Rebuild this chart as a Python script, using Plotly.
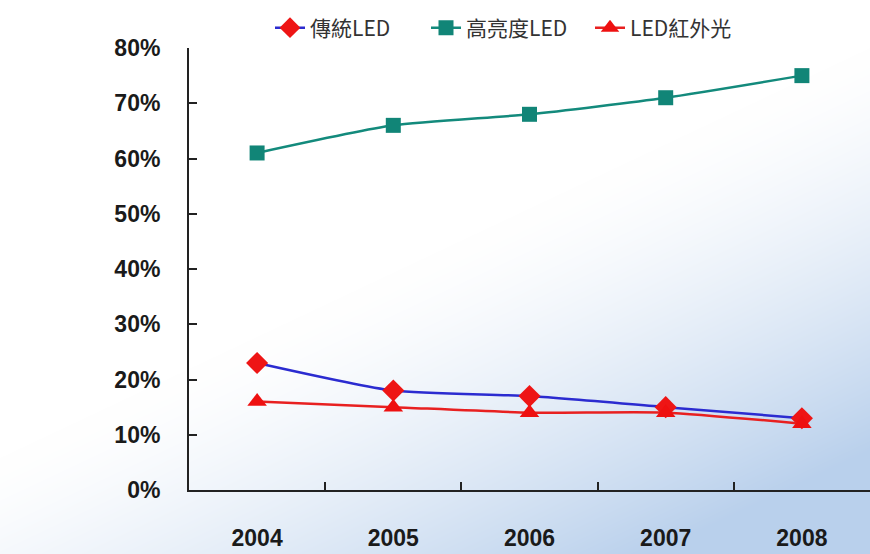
import base64
import struct
import zlib

import numpy as np
import plotly.graph_objects as go

years = ["2004", "2005", "2006", "2007", "2008"]
traditional_led = [23, 18, 17, 15, 13]
high_brightness_led = [61, 66, 68, 71, 75]
infrared_led = [16, 15, 14, 14, 12]
y_ticks = [0, 10, 20, 30, 40, 50, 60, 70, 80]
y_tick_labels = [f"{v}%" for v in y_ticks]

W, H = 870, 554
L, R, T, B = 189, 0, 48, 64
PW, PH = W - L - R, H - T - B


def png_data_uri(rgb):
    """Encode an HxWx3 uint8 array as a PNG data URI."""
    h, w, _ = rgb.shape
    raw = b"".join(b"\x00" + rgb[r].tobytes() for r in range(h))

    def chunk(tag, data):
        c = struct.pack(">I", len(data)) + tag + data
        return c + struct.pack(">I", zlib.crc32(tag + data) & 0xFFFFFFFF)

    png = (b"\x89PNG\r\n\x1a\n"
           + chunk(b"IHDR", struct.pack(">IIBBBBB", w, h, 8, 2, 0, 0, 0))
           + chunk(b"IDAT", zlib.compress(raw, 9))
           + chunk(b"IEND", b""))
    return "data:image/png;base64," + base64.b64encode(png).decode()


# soft blue wash toward the lower right of the page
gx, gy = np.meshgrid(np.arange(W), np.arange(H))
t = np.clip(0.5 * (gx - 440) / 430 + 0.75 * (gy - 250) / 304, 0, 1) ** 1.4
white = np.array([255, 255, 255], float)
blue = np.array([185, 208, 236], float)
bg = (white * (1 - t[..., None]) + blue * t[..., None]).astype(np.uint8)
bg_uri = png_data_uri(bg)

tick_font = dict(family="Liberation Sans, Arial, sans-serif", size=23,
                 color="#1a1a1a", weight="bold")
legend_font = dict(family="Noto Sans CJK TC, sans-serif", size=21, color="#333333")


def legend_box(px):
    return dict(orientation="h", x=(px - L) / PW, xanchor="left",
                y=1 + (T - 28) / PH, yanchor="middle", font=legend_font,
                bgcolor="rgba(0,0,0,0)")


fig = go.Figure()
fig.add_trace(go.Scatter(
    x=years, y=traditional_led, name="傳統LED", mode="lines+markers",
    line=dict(color="#2b2bd0", width=2.5, shape="spline", smoothing=0.6),
    marker=dict(symbol="diamond", size=17, color="#ee1515"),
    legend="legend",
))
fig.add_trace(go.Scatter(
    x=years, y=high_brightness_led, name="高亮度LED", mode="lines+markers",
    line=dict(color="#138a7c", width=2.5, shape="spline", smoothing=0.6),
    marker=dict(symbol="square", size=15, color="#118577"),
    legend="legend2",
))
fig.add_trace(go.Scatter(
    x=years, y=infrared_led, name="LED紅外光", mode="lines+markers",
    line=dict(color="#e82020", width=2.5, shape="spline", smoothing=0.6),
    marker=dict(symbol="triangle-up", size=17, color="#ee1010"),
    legend="legend3",
))

fig.update_layout(
    width=W, height=H,
    margin=dict(l=L, r=R, t=T, b=B),
    paper_bgcolor="white",
    plot_bgcolor="rgba(0,0,0,0)",
    showlegend=True,
    legend=legend_box(270),
    legend2=legend_box(426),
    legend3=legend_box(590),
    images=[dict(source=bg_uri, xref="paper", yref="paper",
                 x=-L / PW, y=1 + T / PH, sizex=W / PW, sizey=H / PH,
                 xanchor="left", yanchor="top", sizing="stretch", layer="below")],
    xaxis=dict(
        type="category", range=[-0.5, 4.5],
        showline=True, linecolor="#222222", linewidth=2,
        ticks="inside", ticklen=8, tickwidth=1.5, tickcolor="#222222",
        tickson="boundaries", showgrid=False, zeroline=False,
        tickfont=tick_font, ticklabelstandoff=26,
    ),
    yaxis=dict(
        range=[0, 80], tickvals=y_ticks, ticktext=y_tick_labels,
        showline=True, linecolor="#222222", linewidth=2,
        ticks="inside", ticklen=8, tickwidth=1.5, tickcolor="#222222",
        showgrid=False, zeroline=False,
        tickfont=tick_font, ticklabelstandoff=22,
    ),
)

fig.write_html("out.html")
